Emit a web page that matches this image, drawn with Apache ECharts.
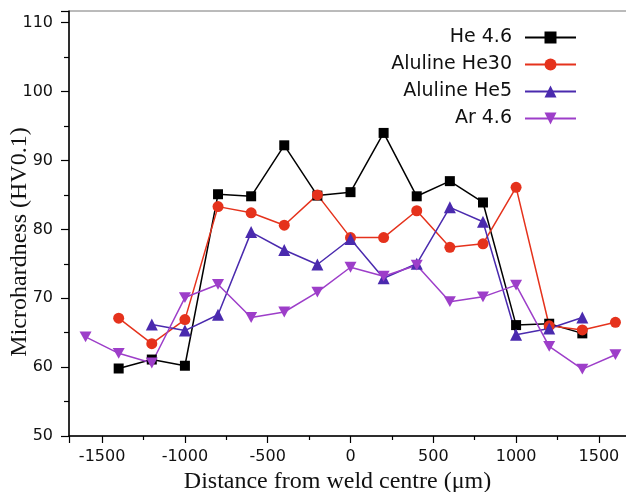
<!DOCTYPE html>
<html>
<head>
<meta charset="utf-8">
<script src="https://cdn.jsdelivr.net/npm/echarts@6/dist/echarts.min.js"></script>
<style>
  html, body { margin: 0; padding: 0; background: #fff; }
  #chart { width: 626px; height: 492px; }
</style>
</head>
<body>
<div id="chart"></div>
<script>
// 数据
const seriesNames = ["He 4.6", "Aluline He30", "Aluline He5", "Ar 4.6"];
const he46X = [-1400, -1200, -1000, -800, -600, -400, -200, 0, 200, 400, 600, 800, 1000, 1200, 1400];
const he46Y = [59.8, 61.1, 60.2, 85.1, 84.8, 92.2, 84.9, 85.4, 94.0, 84.8, 87.0, 83.9, 66.1, 66.3, 64.9];
const he30X = [-1400, -1200, -1000, -800, -600, -400, -200, 0, 200, 400, 600, 800, 1000, 1200, 1400, 1600];
const he30Y = [67.1, 63.4, 66.9, 83.3, 82.4, 80.6, 85.0, 78.8, 78.8, 82.7, 77.4, 77.9, 86.1, 66.0, 65.4, 66.5];
const he5X = [-1200, -1000, -800, -600, -400, -200, 0, 200, 400, 600, 800, 1000, 1200, 1400];
const he5Y = [66.2, 65.3, 67.6, 79.6, 77.0, 74.9, 78.6, 72.9, 75.0, 83.2, 81.1, 64.7, 65.6, 67.2];
const ar46X = [-1600, -1400, -1200, -1000, -800, -600, -400, -200, 0, 200, 400, 600, 800, 1000, 1200, 1400, 1600];
const ar46Y = [64.4, 62.0, 60.6, 70.1, 72.0, 67.2, 68.0, 70.9, 74.5, 73.2, 74.8, 69.5, 70.2, 71.9, 63.0, 59.7, 61.8];

const colors = ["#000000", "#e5321c", "#4a2aae", "#9d3ec9"];
const symbols = ["rect", "circle", "triangle", "path://M0,0 L10,0 L5,9 Z"];
const symbolSizes = [10, 11, 12, 12];

const zip = (xs, ys) => xs.map((x, i) => [x, ys[i]]);
const allData = [zip(he46X, he46Y), zip(he30X, he30Y), zip(he5X, he5Y), zip(ar46X, ar46Y)];

const chart = echarts.init(document.getElementById("chart"));
chart.setOption({
  animation: false,
  color: colors,
  grid: {
    left: 69,
    top: 11,
    width: 563,
    height: 425,
    containLabel: false,
    outerBoundsMode: "none",
    show: true,
    borderColor: "#777",
    borderWidth: 1,
  },
  legend: {
    orient: "vertical",
    right: 44,
    top: 23,
    align: "right",
    itemWidth: 51,
    itemHeight: 15,
    itemGap: 8,
    data: seriesNames,
    textStyle: { fontFamily: "DejaVu Sans", fontSize: 19, color: "#111", padding: [0, 8, 0, 0] },
  },
  xAxis: {
    type: "value",
    min: -1700,
    max: 1700,
    splitNumber: 6,
    name: "Distance from weld centre (μm)",
    nameLocation: "middle",
    nameGap: 34,
    nameMoveOverlap: false,
    nameTextStyle: { fontFamily: "Liberation Serif", fontSize: 24, color: "#111", padding: [0, 26, 0, 0] },
    axisLine: { onZero: false, lineStyle: { color: "#000", width: 1.5 } },
    axisTick: { inside: false, length: 7, lineStyle: { color: "#000", width: 1.2 } },
    minorTick: { show: true, splitNumber: 2, length: 4, lineStyle: { color: "#000", width: 1.2 } },
    axisLabel: {
      margin: 13,
      fontFamily: "DejaVu Sans",
      fontSize: 16,
      color: "#111",
      showMinLabel: false,
      showMaxLabel: false,
      formatter: (v) => String(v),
    },
    splitLine: { show: false },
  },
  yAxis: {
    type: "value",
    min: 50,
    max: 111.7,
    interval: 10,
    name: "Microhardness (HV0.1)",
    nameLocation: "middle",
    nameGap: 37,
    nameMoveOverlap: false,
    nameTextStyle: { fontFamily: "Liberation Serif", fontSize: 24, color: "#111", padding: [0, 37, 0, 0] },
    axisLine: { onZero: false, lineStyle: { color: "#000", width: 1.5 } },
    axisTick: { inside: false, length: 8, lineStyle: { color: "#000", width: 1.2 } },
    minorTick: { show: true, splitNumber: 2, length: 5, lineStyle: { color: "#000", width: 1.2 } },
    axisLabel: {
      margin: 16,
      fontFamily: "DejaVu Sans",
      fontSize: 16,
      color: "#111",
      showMaxLabel: false,
      formatter: (v) => String(v),
    },
    splitLine: { show: false },
  },
  series: seriesNames.map((name, i) => ({
    name: name,
    type: "line",
    data: allData[i],
    symbol: symbols[i],
    symbolSize: symbolSizes[i],
    symbolKeepAspect: true,
    showAllSymbol: true,
    clip: false,
    lineStyle: { color: colors[i], width: 1.5 },
    itemStyle: { color: colors[i] },
  })),
});
</script>
</body>
</html>
